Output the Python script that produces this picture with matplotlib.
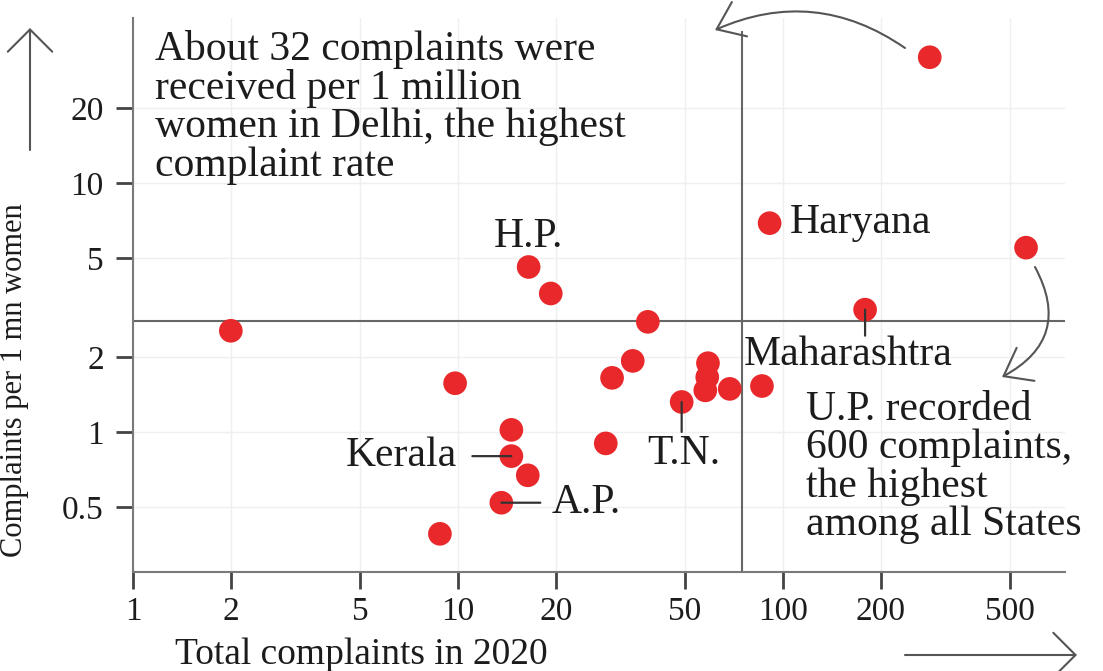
import matplotlib
matplotlib.use("Agg")
import matplotlib.pyplot as plt
from matplotlib.ticker import FixedLocator, FixedFormatter, NullLocator

# -----------------------------
# Data
# -----------------------------
total_complaints = [283, 91, 560, 179, 16.5, 19.3, 2.0, 38.4, 34.5, 29.8, 9.8,
                    58.8, 58.5, 57.7, 68.6, 86.2, 48.8, 14.6, 14.6, 16.4, 13.6,
                    28.5, 8.8]
per_mn_women = [32, 6.9, 5.5, 3.1, 4.6, 3.6, 2.55, 2.77, 1.93, 1.65, 1.57,
                1.89, 1.66, 1.47, 1.49, 1.53, 1.32, 1.02, 0.80, 0.67, 0.52,
                0.90, 0.39]

avg_total = 75
avg_rate = 2.8

x_ticks = [1, 2, 5, 10, 20, 50, 100, 200, 500]
y_ticks = [0.5, 1, 2, 5, 10, 20]

HARYANA, MAHARASHTRA, HP, TN, KERALA, AP = 1, 3, 4, 16, 18, 20

delhi_note = ("About 32 complaints were\nreceived per 1 million\n"
              "women in Delhi, the highest\ncomplaint rate")
up_note = "U.P. recorded\n600 complaints,\nthe highest\namong all States"

plt.rcParams["font.family"] = ["Liberation Serif", "DejaVu Serif"]

TXT = "#1c1c1c"
LINE = "#666666"
RED = "#e8282b"

fig = plt.figure(figsize=(11.03, 6.71), dpi=100)
W, H = 1103, 671
ax = fig.add_axes([133 / W, 1 - 572 / H, (1065 - 133) / W, (572 - 18) / H])

ax.set_xscale("log")
ax.set_yscale("log")
ax.set_xlim(1, 738)
ax.set_ylim(0.274, 46)

ax.xaxis.set_major_locator(FixedLocator(x_ticks))
ax.xaxis.set_major_formatter(FixedFormatter([str(t) for t in x_ticks]))
ax.yaxis.set_major_locator(FixedLocator(y_ticks))
ax.yaxis.set_major_formatter(FixedFormatter([f"{t:g}" for t in y_ticks]))
ax.xaxis.set_minor_locator(NullLocator())
ax.yaxis.set_minor_locator(NullLocator())

ax.grid(True, color="#efefef", lw=1)
ax.set_axisbelow(True)

for s in ["top", "right"]:
    ax.spines[s].set_visible(False)
for s in ["left", "bottom"]:
    ax.spines[s].set_color("#7a7a7a")
    ax.spines[s].set_linewidth(1.5)

ax.tick_params(direction="out", length=12, width=2, color="#444444",
               labelsize=24, labelcolor=TXT)
ax.tick_params(axis="x", pad=6)
ax.tick_params(axis="y", pad=9)

# average lines
ax.axvline(avg_total, ymax=0.975, color=LINE, lw=1.5, zorder=2)
ax.axhline(avg_rate, color=LINE, lw=1.5, zorder=2)

ax.scatter(total_complaints, per_mn_women, s=290, color=RED,
           edgecolors="none", zorder=3)

# -----------------------------
# State labels and leader lines
# -----------------------------
def pt(i):
    return (total_complaints[i], per_mn_women[i])

lab = dict(fontsize=30, color=TXT, textcoords="offset pixels")
lead = dict(arrowstyle="-", color="#333333", lw=1.6, shrinkA=0, shrinkB=0)

ax.annotate("Haryana", pt(HARYANA), xytext=(20, 0), ha="left", va="center", **lab)
ax.annotate("H.P.", pt(HP), xytext=(0, 30), ha="center", va="center", **lab)

ax.annotate("", pt(MAHARASHTRA), xytext=(0, -26), textcoords="offset pixels",
            arrowprops=lead)
ax.annotate("Maharashtra", pt(MAHARASHTRA), xytext=(-17, -45), ha="center",
            va="center", **lab)

ax.annotate("", pt(TN), xytext=(0, -30), textcoords="offset pixels",
            arrowprops=lead)
ax.annotate("T.N.", pt(TN), xytext=(2, -52), ha="center", va="center", **lab)

ax.annotate("", pt(KERALA), xytext=(-39, 0), textcoords="offset pixels",
            arrowprops=lead)
ax.annotate("Kerala", pt(KERALA), xytext=(-54, 0), ha="right", va="center", **lab)

ax.annotate("", pt(AP), xytext=(39, 0), textcoords="offset pixels",
            arrowprops=lead)
ax.annotate("A.P.", pt(AP), xytext=(50, 0), ha="left", va="center", **lab)

# -----------------------------
# Notes and curved arrows
# -----------------------------
ax.annotate(delhi_note, (155, H - 30), xycoords="figure pixels", ha="left",
            va="top", fontsize=30, color=TXT, linespacing=1.0)
ax.annotate(up_note, (806, H - 390), xycoords="figure pixels", ha="left",
            va="top", fontsize=30, color=TXT, linespacing=1.0)

curve = dict(arrowstyle="->,head_length=0.6,head_width=0.45", color="#555555",
             lw=1.5, shrinkA=0, shrinkB=0, mutation_scale=30)
ax.annotate("", (715, H - 30), xytext=(905, H - 48), xycoords="figure pixels",
            arrowprops=dict(connectionstyle="arc3,rad=0.28", **curve),
            annotation_clip=False)
ax.annotate("", (1002, H - 377), xytext=(1035, H - 267), xycoords="figure pixels",
            arrowprops=dict(connectionstyle="arc3,rad=-0.5", **curve),
            annotation_clip=False)

# axis titles with direction arrows
fig.text(175, 16, "Total complaints in 2020", transform=None, ha="left",
         va="center", fontsize=27, color=TXT)
fig.text(15, H - 380, "Complaints per 1 mn women", transform=None, ha="center",
         va="center", rotation=90, fontsize=22, color=TXT)

axis_arrow = dict(arrowstyle="->,head_length=0.5,head_width=0.5", color="#555555",
                  lw=1.5, shrinkA=0, shrinkB=0, mutation_scale=32)
ax.annotate("", (30, H - 28), xytext=(30, H - 150), xycoords="figure pixels",
            arrowprops=axis_arrow, annotation_clip=False)
ax.annotate("", (1077, 16), xytext=(905, 16), xycoords="figure pixels",
            arrowprops=axis_arrow, annotation_clip=False)

fig.savefig("out.png", dpi=100)
